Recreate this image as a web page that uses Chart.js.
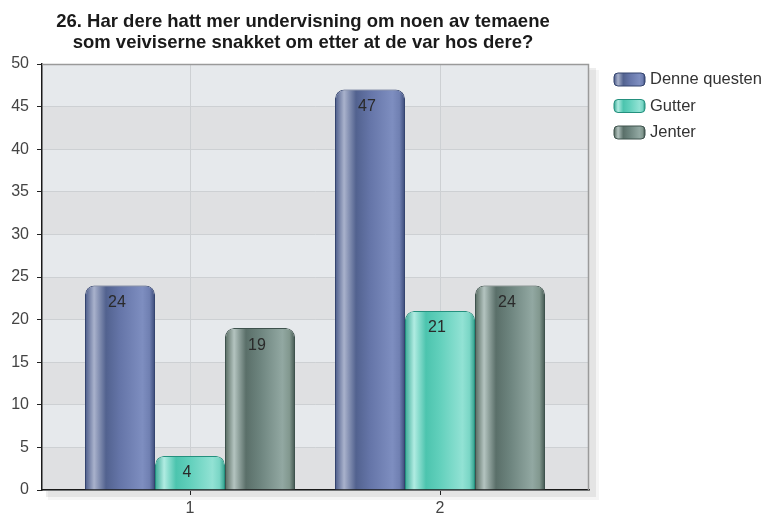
<!DOCTYPE html>
<html><head><meta charset="utf-8">
<script src="https://cdn.jsdelivr.net/npm/chart.js@4.4.0/dist/chart.umd.min.js"></script>
<style>html,body{margin:0;padding:0;background:#fff;}#wrap{width:770px;height:516px;}</style>
</head><body><div id="wrap"><canvas id="c" width="770" height="516"></canvas></div>
<script>
const titleLines = ['26. Har dere hatt mer undervisning om noen av temaene', 'som veiviserne snakket om etter at de var hos dere?'];
const categories = [1, 2];
const tickLabels = ['1', '2'];
const seriesNames = ['Denne questen', 'Gutter', 'Jenter'];
const denneQuesten = [24, 47];
const gutter = [4, 21];
const jenter = [19, 24];
const yMin = 0, yMax = 50, yStep = 5;

const FONT = '"Liberation Sans", Arial, Helvetica, sans-serif';
const palettes = [
  {edge: '#34446f', stops: ['#4a5a88', '#a9b2cc', '#52628f', '#6575a8', '#7e8ec0', '#7080b2', '#3a4a78']},
  {edge: '#24907e', stops: ['#3aa995', '#b0ece2', '#4cc4ae', '#62d0bc', '#92e2d4', '#7ad6c6', '#2e9e8a']},
  {edge: '#3e524d', stops: ['#55695f', '#b4c4c0', '#5a6f69', '#6d847e', '#92a8a2', '#82988f', '#41554f']}
];
const stopPos = [0, 0.13, 0.3, 0.5, 0.82, 0.92, 1];

function makeGrad(ctx, x0, x1, pal) {
  const g = ctx.createLinearGradient(x0, 0, x1, 0);
  pal.stops.forEach((c, i) => g.addColorStop(stopPos[i], c));
  return g;
}
function rr(ctx, x, y, w, h, r) {
  ctx.beginPath();
  ctx.moveTo(x + r, y);
  ctx.lineTo(x + w - r, y);
  ctx.quadraticCurveTo(x + w, y, x + w, y + r);
  ctx.lineTo(x + w, y + h - r);
  ctx.quadraticCurveTo(x + w, y + h, x + w - r, y + h);
  ctx.lineTo(x + r, y + h);
  ctx.quadraticCurveTo(x, y + h, x, y + h - r);
  ctx.lineTo(x, y + r);
  ctx.quadraticCurveTo(x, y, x + r, y);
  ctx.closePath();
}

const deco = {
  id: 'deco',
  beforeDraw(chart) {
    const {ctx, chartArea: a, scales: {y}} = chart;
    ctx.save();
    ctx.fillStyle = 'rgba(0,0,0,0.07)';
    ctx.fillRect(a.left + 4, a.top + 4, a.right - a.left + 3, a.bottom - a.top + 3);
    ctx.fillStyle = 'rgba(0,0,0,0.04)';
    ctx.fillRect(a.left + 6, a.top + 6, a.right - a.left + 4, a.bottom - a.top + 4);
    for (let v = yMin, i = 0; v < yMax; v += yStep, i++) {
      const y0 = y.getPixelForValue(v + yStep), y1 = y.getPixelForValue(v);
      ctx.fillStyle = (i % 2 === 1) ? '#e6e9ec' : '#dfe0e2';
      ctx.fillRect(a.left, y0, a.right - a.left, y1 - y0);
    }
    ctx.restore();
  },
  beforeDatasetsDraw(chart) {
    const ctx = chart.ctx;
    chart.data.datasets.forEach((ds, di) => {
      const meta = chart.getDatasetMeta(di);
      meta.data.forEach(el => {
        const x0 = el.x - el.width / 2, x1 = el.x + el.width / 2;
        el.options = Object.assign({}, el.options, {backgroundColor: makeGrad(ctx, x0, x1, palettes[di])});
      });
    });
  },
  afterDatasetsDraw(chart) {
    const ctx = chart.ctx;
    ctx.save();
    ctx.font = '16px ' + FONT;
    ctx.fillStyle = '#2a2a2a';
    ctx.textAlign = 'center';
    ctx.textBaseline = 'middle';
    chart.data.datasets.forEach((ds, di) => {
      const meta = chart.getDatasetMeta(di);
      meta.data.forEach((el, i) => {
        ctx.fillText(String(ds.data[i].y), el.x - 3, el.y + 17);
      });
    });
    ctx.restore();
  },
  afterDraw(chart) {
    const {ctx, chartArea: a} = chart;
    ctx.save();
    ctx.strokeStyle = '#9a9a9a';
    ctx.lineWidth = 1.5;
    ctx.beginPath();
    ctx.moveTo(a.left, a.top + 0.5);
    ctx.lineTo(a.right - 0.5, a.top + 0.5);
    ctx.lineTo(a.right - 0.5, a.bottom);
    ctx.stroke();
    ctx.fillStyle = '#1a1a1a';
    ctx.font = 'bold 18.5px ' + FONT;
    ctx.textAlign = 'center';
    ctx.textBaseline = 'middle';
    ctx.fillText(titleLines[0], 303, 22);
    ctx.fillText(titleLines[1], 303, 43);
    ctx.font = '16.5px ' + FONT;
    ctx.textAlign = 'left';
    seriesNames.forEach((n, i) => {
      const yy = 79.5 + i * 26.5;
      const bx = 614, bw = 31, bh = 13;
      rr(ctx, bx, yy - bh / 2, bw, bh, 4);
      ctx.fillStyle = makeGrad(ctx, bx, bx + bw, palettes[i]);
      ctx.fill();
      ctx.strokeStyle = palettes[i].edge;
      ctx.lineWidth = 1;
      ctx.stroke();
      ctx.fillStyle = '#333';
      ctx.fillText(n, 650, yy);
    });
    ctx.restore();
  }
};

const seriesData = [denneQuesten, gutter, jenter];
const datasets = seriesNames.map((name, di) => ({
  label: name,
  data: categories.map((c, i) => ({x: c, y: seriesData[di][i]})),
  backgroundColor: palettes[di].stops[3],
  borderColor: palettes[di].edge,
  borderWidth: 1,
  borderRadius: {topLeft: 9, topRight: 9, bottomLeft: 0, bottomRight: 0},
  borderSkipped: 'bottom',
  categoryPercentage: 0.84,
  barPercentage: 1.0
}));

new Chart(document.getElementById('c'), {
  type: 'bar',
  data: {datasets},
  options: {
    responsive: false,
    devicePixelRatio: 1,
    animation: false,
    layout: {padding: {left: 0, top: 64, right: 181, bottom: 0}},
    plugins: {legend: {display: false}, title: {display: false}, tooltip: {enabled: false}},
    scales: {
      x: {
        type: 'linear',
        offset: false,
        min: 0.408, max: 2.596,
        afterBuildTicks: s => { s.ticks = categories.map(v => ({value: v})); },
        afterFit: s => { s.height = 26; },
        ticks: {
          autoSkip: false, maxRotation: 0, padding: 4,
          color: '#444', font: {family: FONT, size: 16},
          callback: v => tickLabels[categories.indexOf(v)]
        },
        grid: {offset: false, color: '#cdd0d3', lineWidth: 1, tickColor: '#222', tickLength: 5},
        border: {color: '#1a1a1a', width: 1.5}
      },
      y: {
        min: yMin, max: yMax,
        afterFit: s => { s.width = 42; },
        ticks: {stepSize: yStep, padding: 8, color: '#444', font: {family: FONT, size: 16}},
        grid: {color: '#cdd0d3', lineWidth: 1, tickColor: '#222', tickLength: 5},
        border: {color: '#1a1a1a', width: 1.5}
      }
    }
  },
  plugins: [deco]
});
</script></body></html>
